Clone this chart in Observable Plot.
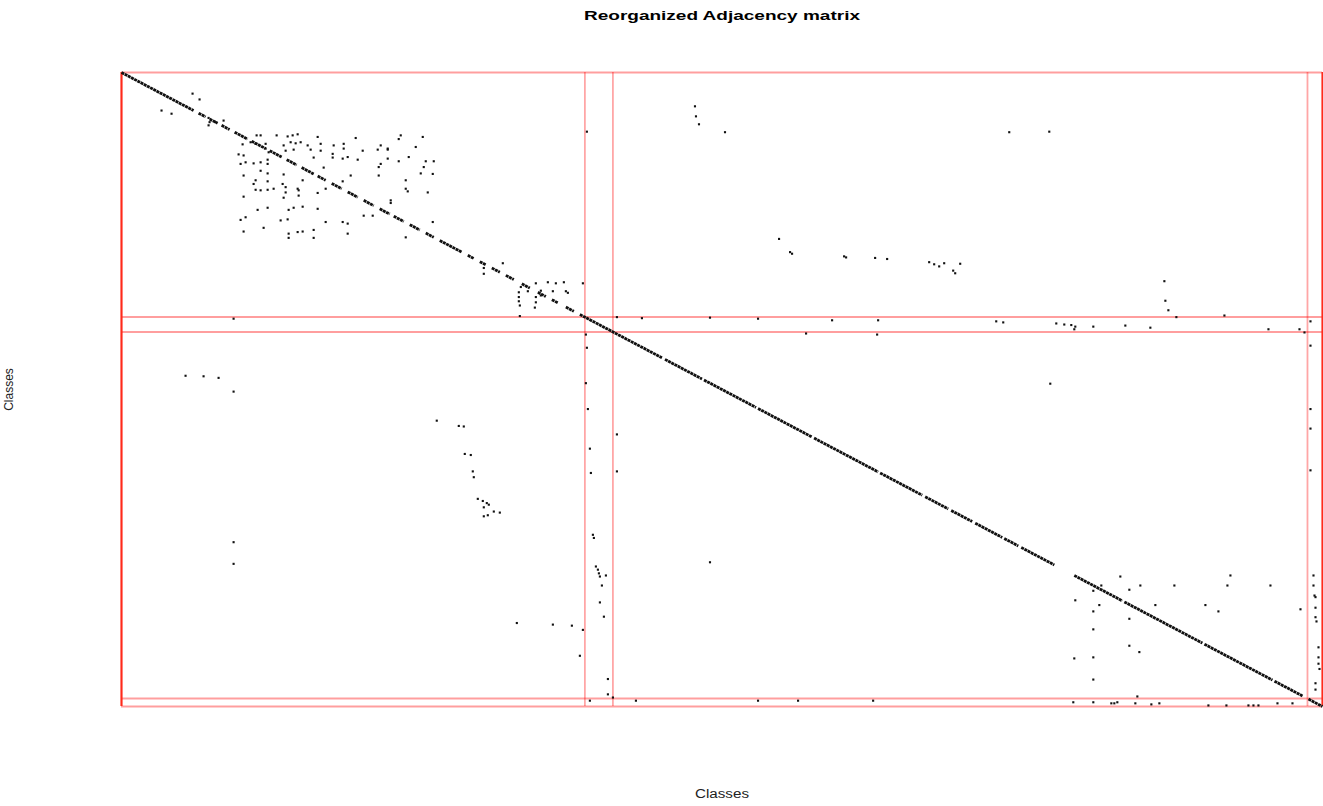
<!DOCTYPE html>
<html><head><meta charset="utf-8">
<script src="https://cdn.jsdelivr.net/npm/d3@7"></script>
<script src="https://cdn.jsdelivr.net/npm/@observablehq/plot@0.6"></script>
<style>body{margin:0;background:#fff;} svg{display:block}</style>
</head><body><div id="chart"></div>
<script>
// ---- Data (node ranks in the reorganized order, 0..N) ----
const N = 1200;
const title = "Reorganized Adjacency matrix";
const axisLabel = "Classes";
const groupBounds = [463, 491, 1185];

// runs of the dense main diagonal [from, to]
const diagSegments = [[0,72],[77,84],[88,96],[100,108],[113,126],[130,144],[148,160],[165,175],[180,192],[196,204],[210,220],[226,236],[242,252],[258,268],[272,282],[288,298],[304,312],[318,340],[346,352],[358,364],[370,378],[384,392],[400,408],[416,424],[430,436],[444,452],[458,540],[543,580],[582,634],[636,690],[692,756],[758,800],[803,826],[829,850],[853,880],[882,896],[899,932],[952,1000],[1002,1080],[1082,1150],[1152,1180],[1186,1200]];

// off-diagonal links [column, row]
const blockTopLeft = [[71,40],[78,51],[40,72],[50,78],[87,86],[88,94],[94,94],[102,91],[87,100],
[135,119],[139,119],[155,119],[166,121],[171,119],[176,117],[196,122],[234,124],[279,119],[301,122],
[121,136],[129,132],[134,135],[144,135],[162,138],[169,132],[174,134],[179,132],[186,138],[199,135],[212,138],[222,135],[259,138],[266,144],[277,126],
[144,144],[147,151],[164,148],[172,146],[189,146],[199,148],[211,154],[222,144],[241,148],[256,146],[266,146],[294,141],
[117,155],[122,157],[119,173],[124,170],[132,172],[139,170],[146,165],[146,173],[192,161],[211,161],[221,163],[226,160],[236,165],[266,163],[277,168],[287,160],[304,168],[312,168],[259,173],[257,179],[302,179],
[122,195],[139,186],[146,191],[162,193],[181,204],[221,206],[229,195],[202,180],[257,195],[284,204],[299,191],[311,192],[134,204],[146,206],
[132,211],[161,211],[164,217],[134,222],[139,223],[146,222],[152,220],[164,227],[176,220],[177,223],[196,228],[204,220],[284,220],[286,225],[306,227],
[122,235],[162,237],[177,233],[269,242],[269,247],
[136,260],[146,256],[172,256],[181,254],[196,258],[119,279],[124,274],[159,280],[166,278],[167,260],[242,271],[251,271],[204,283],[221,283],[226,286],[311,283],
[122,301],[142,294],[167,305],[167,313],[176,302],[181,301],[192,298],[192,313],[226,305],[284,312],
[381,361],[362,370],[362,381],
[414,399],[426,397],[434,399],[442,397],[397,416],[399,406],[406,414],[419,413],[431,414],[444,414],[446,417],[397,425],[414,425],[419,422],[397,433],[414,435],[398,441],[413,445],[398,461],[461,399]];

const blockTopRight = [[573,64],[574,83],[577,98],[603,113],[887,113],[927,112],[465,112],
[657,315],[668,340],[670,343],[722,348],[724,350],[753,351],[765,353],[807,359],[812,363],[817,367],[822,361],[831,375],[833,380],[838,362],[1042,395],[1043,432],[1046,450],[1054,463],[1102,460]];

const bandGroup2 = [[112,466],[495,463],[520,465],[588,464],[636,466],[710,469],[756,469],[874,471],[881,473],[934,475],[942,477],[949,478],[953,481],[952,486],[971,481],[1003,479],[1028,483],[1146,486],[1177,486],[1182,492],[1188,471],[684,494],[755,496],[1188,517],
[464,496],[465,521],[464,588],[466,637],[468,712],[469,758],[471,875],[472,881],[474,935],[476,941],[477,948],[478,954],[484,952],[480,971],[478,1003],[482,1030],[486,1148],[486,1177],[491,1183],[495,685],[495,755]];

const blockBottomLeft = [[64,574],[82,575],[97,578],[112,604],[315,659],[337,669],[342,670],[343,722],[349,724],[351,755],[352,766],[356,807],[361,811],[365,815],[367,818],[362,823],[372,831],[378,833],[362,840],[366,838],[112,889],[112,930],[395,1042],[431,1045],[450,1047],[461,1055],[458,1104]];

const blockBottomRight = [[928,589],[588,927],[998,954],[1108,952],[979,971],[1018,971],[1052,971],[1105,971],[1148,971],[1007,979],[971,981],[953,999],[977,1008],[1033,1008],[1083,1008],[971,1020],[1096,1020],[1178,1016],[1007,1034],[971,1054],[1007,1085],[1017,1097],[952,1109],[971,1107],[971,1149],[1015,1181]];

const bandGroup4 = [[1188,637],[1188,674],[1188,753],[1191,952],[1191,971],[1192,990],[1193,993],[1193,1013],[1193,1031],[1194,1039],[1196,1088],[1196,1107],[1196,1119],[1197,1129],[1193,1156],[1193,1168],
[468,1189],[514,1189],[636,1189],[676,1189],[751,1189],[951,1192],[971,1192],[989,1194],[992,1194],[995,1192],[1013,1194],[1029,1196],[1037,1194],[1086,1198],[1104,1198],[1126,1198],[1131,1198],[1136,1198],[1155,1194],[1170,1194]];

const links = [...blockTopLeft, ...blockTopRight, ...bandGroup2, ...blockBottomLeft, ...blockBottomRight, ...bandGroup4];
const bounds = [0, ...groupBounds, N];

const chart = Plot.plot({
  width: 1323, height: 806,
  marginLeft: 121, marginRight: 1, marginTop: 72, marginBottom: 100,
  x: {domain: [0, N], axis: null},
  y: {domain: [0, N], reverse: true, axis: null},
  style: {background: "white", fontFamily: "'Liberation Sans', Arial, sans-serif"},
  marks: [
    Plot.ruleX(bounds, {stroke: "#ff0000", strokeOpacity: 0.35, strokeWidth: 1.8}),
    Plot.ruleY(bounds, {stroke: "#ff0000", strokeOpacity: 0.38, strokeWidth: 2}),
    Plot.ruleX([0, N], {stroke: "#ff2a1a", strokeWidth: 2}),
    Plot.link(diagSegments, {x1: d => d[0], y1: d => d[0], x2: d => d[1], y2: d => d[1], stroke: "#111", strokeWidth: 2.8, strokeDasharray: "3,0.6"}),
    Plot.dot(links, {x: d => d[0], y: d => d[1], symbol: "square", r: 1.2, fill: "#111", stroke: "none"}),
    Plot.text([title], {frameAnchor: "top", textAnchor: "middle", dy: -62, fontWeight: "bold", fontSize: 13, fill: "#000"}),
    Plot.text([axisLabel], {frameAnchor: "bottom", textAnchor: "middle", dy: 91, fontSize: 12, fill: "#222"}),
    Plot.text([axisLabel], {frameAnchor: "left", textAnchor: "middle", dx: -112, rotate: -90, fontSize: 12, fill: "#222"})
  ]
});

d3.select(chart).selectAll("text").each(function() {
  const t = this.textContent;
  const tr = this.getAttribute("transform") || "";
  if (t === title) {
    this.setAttribute("textLength", 276);
    this.setAttribute("lengthAdjust", "spacingAndGlyphs");
  } else if (t === axisLabel && !/rotate/.test(tr)) {
    this.setAttribute("textLength", 54);
    this.setAttribute("lengthAdjust", "spacingAndGlyphs");
  }
});

document.getElementById("chart").appendChild(chart);
</script>
</body></html>
